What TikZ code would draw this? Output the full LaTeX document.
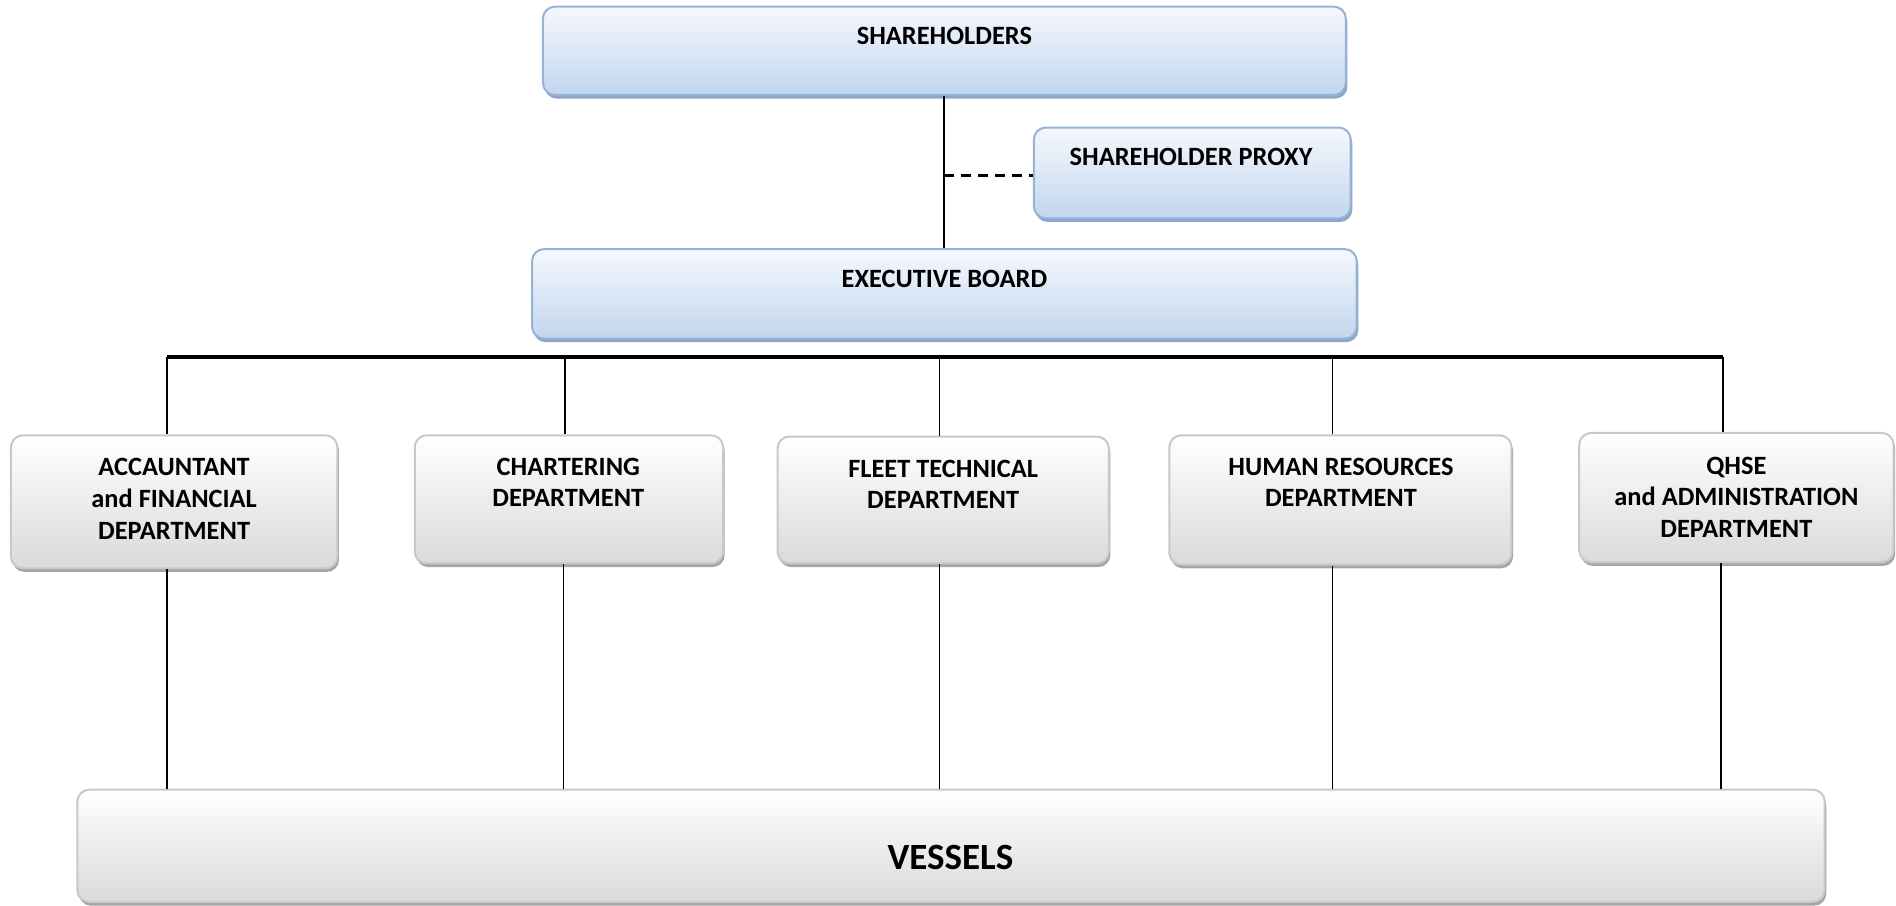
\documentclass[tikz,border=0pt]{standalone}
\usepackage{fontspec}
\setmainfont{Carlito}
\usetikzlibrary{shadows}
\definecolor{bBorder}{RGB}{149,179,215}
\definecolor{bTop}{RGB}{245,248,253}
\definecolor{bBot}{RGB}{194,214,238}
\definecolor{bShadow}{RGB}{140,165,200}
\definecolor{gBorder}{RGB}{200,200,200}
\definecolor{gTop}{RGB}{255,255,255}
\definecolor{gBot}{RGB}{218,218,218}
\definecolor{gShadow}{RGB}{165,165,165}
\newcommand\pxu{0.6046pt}
\begin{document}
\begin{tikzpicture}[x=0.6046pt,y=-0.6046pt,
  bluebox/.style={draw=bBorder, line width=1pt, rounded corners=6pt,
    top color=bTop, bottom color=bBot, inner sep=0pt,
    drop shadow={shadow xshift=0.8pt, shadow yshift=-1.8pt, fill=bShadow, opacity=1}},
  greybox/.style={draw=gBorder, line width=1pt, rounded corners=6pt,
    top color=gTop, bottom color=gBot, inner sep=0pt,
    drop shadow={shadow xshift=0.8pt, shadow yshift=-1.8pt, fill=gShadow, opacity=1}},
  lbl/.style={font=\bfseries\fontsize{13.2}{15.8}\selectfont, align=center, inner sep=0pt},
  conn/.style={line width=0.9pt},
  bus/.style={line width=2pt}]
\useasboundingbox (0,0) rectangle (1568,749);

% boxes
\node[bluebox, minimum width=664*\pxu, minimum height=73*\pxu] (sh) at (781,42) {};
\node[bluebox, minimum width=262*\pxu, minimum height=75*\pxu] (px) at (986,143) {};
\node[bluebox, minimum width=682*\pxu, minimum height=74*\pxu] (ex) at (781,243) {};
\node[greybox, minimum width=270*\pxu, minimum height=110*\pxu] (acc) at (144,415) {};
\node[greybox, minimum width=255*\pxu, minimum height=106*\pxu] (cha) at (470.5,413) {};
\node[greybox, minimum width=274*\pxu, minimum height=105*\pxu] (flt) at (780,413.5) {};
\node[greybox, minimum width=283*\pxu, minimum height=107*\pxu] (hr) at (1108.5,413.5) {};
\node[greybox, minimum width=260*\pxu, minimum height=107*\pxu] (qh) at (1436,411.5) {};
\node[greybox, minimum width=1445*\pxu, minimum height=93*\pxu] (ves) at (786.5,699.5) {};

% texts
\node[lbl] (shT) at (781,30) {SHAREHOLDERS};
\node[lbl] (pxT) at (985,130) {SHAREHOLDER PROXY};
\node[lbl] (exT) at (781,231) {EXECUTIVE BOARD};
\node[lbl] (accT) at (144,412.5) {ACCAUNTANT\\and FINANCIAL\\DEPARTMENT};
\node[lbl] (chaT) at (470,399) {CHARTERING\\DEPARTMENT};
\node[lbl] (fltT) at (780,400.5) {FLEET TECHNICAL\\DEPARTMENT};
\node[lbl] (hrT) at (1109,399) {HUMAN RESOURCES\\DEPARTMENT};
\node[lbl] (qhT) at (1436,411) {QHSE\\and ADMINISTRATION\\DEPARTMENT};
\node[font=\bfseries\fontsize{18.5}{22}\selectfont, inner sep=0pt] (vesT) at (786,709) {VESSELS};

% top connectors
\draw[conn] (sh.south) -- (ex.north);
\coordinate (dj) at (781,145);
\draw[line width=1.2pt, dash pattern=on 5pt off 3.5pt] (dj) -- (dj -| px.west);

% bus
\coordinate (b1) at (138,295);
\coordinate (b2) at (467,295);
\coordinate (b3) at (777,295);
\coordinate (b4) at (1102,295);
\coordinate (b5) at (1425,295);
\draw[bus] (b1) -- (b5);
\draw[conn] (b1) -- (b1 |- acc.north);
\draw[conn] (b2) -- (b2 |- cha.north);
\draw[conn] (b3) -- (b3 |- flt.north);
\draw[conn] (b4) -- (b4 |- hr.north);
\draw[conn] (b5) -- (b5 |- qh.north);

% lower connectors
\coordinate (v1) at (138,653);
\coordinate (v2) at (466,653);
\coordinate (v3) at (777,653);
\coordinate (v4) at (1102,653);
\coordinate (v5) at (1423,653);
\draw[conn] (v1 |- acc.south) -- (v1 |- ves.north);
\draw[conn] (v2 |- cha.south) -- (v2 |- ves.north);
\draw[conn] (v3 |- flt.south) -- (v3 |- ves.north);
\draw[conn] (v4 |- hr.south) -- (v4 |- ves.north);
\draw[conn] (v5 |- qh.south) -- (v5 |- ves.north);
\end{tikzpicture}
\end{document}
